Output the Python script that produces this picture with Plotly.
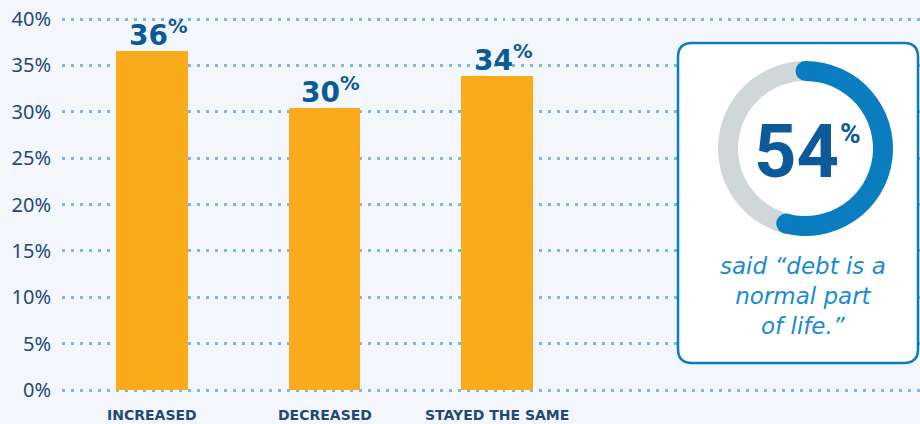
import math
import plotly.graph_objects as go

# ---------------- data ----------------
categories = ["INCREASED", "DECREASED", "STAYED THE SAME"]
bar_values = [36.5, 30.4, 33.9]          # bar heights
bar_labels = ["36", "30", "34"]           # printed labels
y_ticks = [0, 5, 10, 15, 20, 25, 30, 35, 40]
y_tick_text = ["0%", "5%", "10%", "15%", "20%", "25%", "30%", "35%", "40%"]
donut_value = 54
donut_text = "said \u201cdebt is a<br>normal part<br>of life.\u201d"

# ---------------- style ----------------
BG = "#f3f7fb"
BAR = "#f9ab1c"
NAVY = "#1f4a78"
LABEL_BLUE = "#0c5a9a"
RING_BLUE = "#0a7cc0"
RING_GRAY = "#d0d7d9"
TEXT_BLUE = "#1a8bd0"
GRID = "#7fb8e0"

W, H = 920, 424
ML, MR, MT, MB = 62, 0, 0, 18
PW, PH = W - ML - MR, H - MT - MB

# axis ranges (layout)
X_RANGE = [-0.5217, 4.452]
Y_RANGE = [-1.725, 42.05]


def px2x(px):
    return X_RANGE[0] + (px - ML) / PW * (X_RANGE[1] - X_RANGE[0])


def py2y(py):
    return Y_RANGE[1] - (py - MT) / PH * (Y_RANGE[1] - Y_RANGE[0])


def py2paper(py):
    return (MT + PH - py) / PH


fig = go.Figure()

xs = list(range(len(categories)))
fig.add_trace(go.Bar(
    x=xs, y=bar_values, width=0.417, marker=dict(color=BAR, line=dict(width=0)),
    hoverinfo="skip", showlegend=False,
))

# bar value labels
for i, (v, lab) in enumerate(zip(bar_values, bar_labels)):
    fig.add_annotation(
        x=i, y=v, xref="x", yref="y", text=f"{lab}<sup>%</sup>", showarrow=False,
        xanchor="center", yanchor="bottom", xshift=6, yshift=-3,
        font=dict(family="DejaVu Sans", size=28, color=LABEL_BLUE, weight="bold"),
    )

# category labels under the bars
for i, cat in enumerate(categories):
    fig.add_annotation(
        x=i, y=py2paper(415), xref="x", yref="paper", text=cat, showarrow=False,
        xanchor="center", yanchor="middle",
        font=dict(family="DejaVu Sans", size=14, color=NAVY, weight="bold"),
    )

# ---------------- callout box ----------------
L, R, T, B, r = 678, 918, 43, 363, 14
pts = lambda px, py: f"{px2x(px):.5f},{py2y(py):.5f}"
path = (f"M {pts(L + r, T)} L {pts(R - r, T)} Q {pts(R, T)} {pts(R, T + r)} "
        f"L {pts(R, B - r)} Q {pts(R, B)} {pts(R - r, B)} "
        f"L {pts(L + r, B)} Q {pts(L, B)} {pts(L, B - r)} "
        f"L {pts(L, T + r)} Q {pts(L, T)} {pts(L + r, T)} Z")
fig.add_shape(type="path", path=path, xref="x", yref="y", layer="between",
              fillcolor="white", line=dict(color=RING_BLUE, width=2.5))

# donut
CX, CY, RO, THICK = 805.5, 148.5, 87.5, 20
fig.add_trace(go.Pie(
    values=[donut_value, 100 - donut_value], sort=False, direction="clockwise",
    rotation=0, hole=(RO - THICK) / RO,
    marker=dict(colors=[RING_BLUE, RING_GRAY], line=dict(width=0)),
    textinfo="none", hoverinfo="skip", showlegend=False,
    domain=dict(x=[(CX - RO - ML) / PW, (CX + RO - ML) / PW],
                y=[(MT + PH - (CY + RO)) / PH, (MT + PH - (CY - RO)) / PH]),
))

# rounded caps of the blue arc
rm = RO - THICK / 2
for frac in (0.0, donut_value / 100):
    ang = 2 * math.pi * frac
    cxp = CX + rm * math.sin(ang)
    cyp = CY - rm * math.cos(ang)
    fig.add_shape(type="circle", xref="x", yref="y", xsizemode="pixel", ysizemode="pixel",
                  xanchor=px2x(cxp), yanchor=py2y(cyp),
                  x0=-THICK / 2, x1=THICK / 2, y0=-THICK / 2, y1=THICK / 2,
                  fillcolor=RING_BLUE, line=dict(width=0), layer="above")

fig.add_annotation(x=px2x(796), y=py2y(151), xref="x", yref="y", text=f"{donut_value}",
                   showarrow=False, xanchor="center", yanchor="middle",
                   font=dict(family="Roboto", size=74, color=LABEL_BLUE, weight="bold"))
fig.add_annotation(x=px2x(850), y=py2y(133), xref="x", yref="y", text="%",
                   showarrow=False, xanchor="center", yanchor="middle",
                   font=dict(family="Roboto", size=28, color=LABEL_BLUE, weight="bold"))
fig.add_annotation(x=px2x(803), y=py2y(296), xref="x", yref="y", text=donut_text,
                   showarrow=False, xanchor="center", yanchor="middle", align="center",
                   font=dict(family="DejaVu Sans", size=23, color=TEXT_BLUE, style="italic"))

fig.update_layout(
    width=W, height=H, margin=dict(l=ML, r=MR, t=MT, b=MB, autoexpand=False),
    paper_bgcolor=BG, plot_bgcolor=BG,
    xaxis=dict(range=X_RANGE, tickvals=xs, showticklabels=False, showgrid=False,
               zeroline=False, showline=False, fixedrange=True),
    yaxis=dict(range=Y_RANGE, tickvals=y_ticks, ticktext=y_tick_text, showgrid=True,
               gridcolor=GRID, gridwidth=2.5, griddash="2.5px,6.5px",
               zeroline=False, showline=False, ticks="outside", ticklen=0,
               ticklabelstandoff=6,
               tickfont=dict(family="Noto Sans", size=20, color=NAVY), fixedrange=True),
    bargap=0,
)

fig.write_html("out.html")
